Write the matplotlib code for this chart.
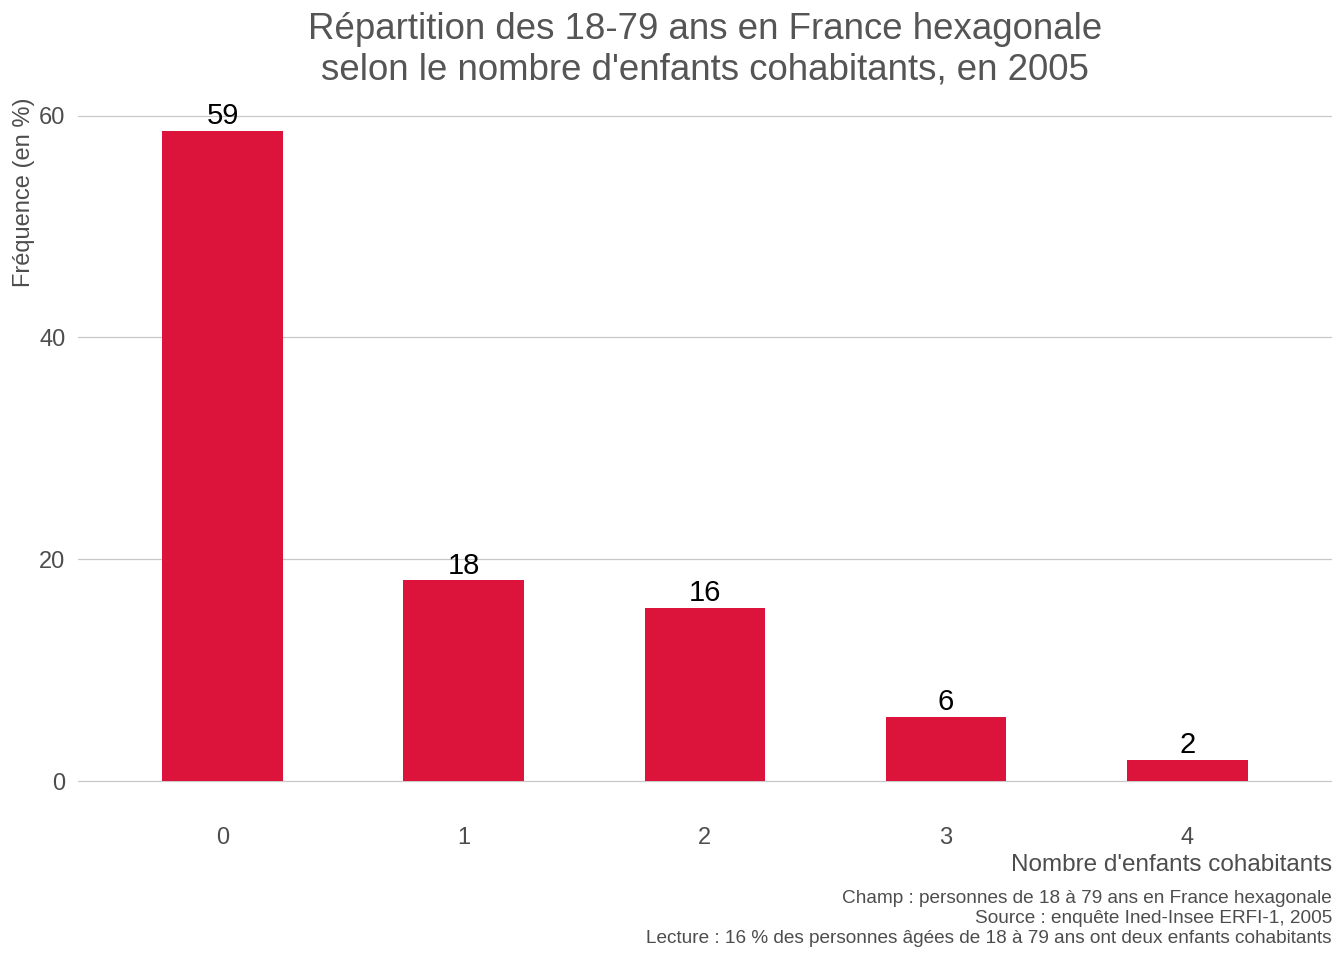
import matplotlib
matplotlib.use("Agg")
import matplotlib.pyplot as plt

# =====================================================
# DONNEES
# =====================================================

nb_enfants = ["0", "1", "2", "3", "4"]
frequence = [58.65, 18.1, 15.6, 5.8, 1.9]
etiquettes = ["59", "18", "16", "6", "2"]

titre = ("Répartition des 18-79 ans en France hexagonale\n"
         "selon le nombre d'enfants cohabitants, en 2005")
legende = ("Champ : personnes de 18 à 79 ans en France hexagonale\n"
           "Source : enquête Ined-Insee ERFI-1, 2005\n"
           "Lecture : 16 % des personnes âgées de 18 à 79 ans ont deux enfants cohabitants")

plt.rcParams["font.family"] = ["Liberation Sans", "DejaVu Sans"]

gris = "#4d4d4d"

# =====================================================
# GRAPHIQUE
# =====================================================

fig = plt.figure(figsize=(13.44, 9.6), dpi=100)
ax = fig.add_axes([0.058, 0.1526, 0.933, 0.7454])

pos = range(len(nb_enfants))
ax.bar(pos, frequence, width=0.5, color="#DC143C", zorder=2)

for x, h, lab in zip(pos, frequence, etiquettes):
    ax.text(x, h + 0.05, lab, ha="center", va="bottom",
            fontsize=21, color="black", zorder=3)

ax.set_xlim(-0.6, 4.6)
ax.set_ylim(-2.93, 61.6)
ax.set_xticks(list(pos))
ax.set_xticklabels(nb_enfants)
ax.set_yticks([0, 20, 40, 60])

ax.grid(axis="y", color="#c8c8c8", linewidth=0.9, zorder=0)
ax.grid(axis="x", visible=False)
for s in ax.spines.values():
    s.set_visible(False)

ax.tick_params(axis="both", length=0, labelsize=17, labelcolor=gris)
ax.tick_params(axis="x", pad=10)
ax.tick_params(axis="y", pad=9)

ax.set_xlabel("Nombre d'enfants cohabitants", fontsize=17.5, color=gris,
              loc="right", labelpad=3)
ax.set_ylabel("Fréquence (en %)", fontsize=17, color=gris,
              loc="top", labelpad=3)

fig.text(0.5245, 0.987, titre, ha="center", va="top", fontsize=26.4,
         color="#555555", linespacing=1.19)

fig.text(0.991, 0.073, legende, ha="right", va="top", fontsize=13.7,
         color=gris, linespacing=1.23)

fig.savefig("out.png", dpi=100)
